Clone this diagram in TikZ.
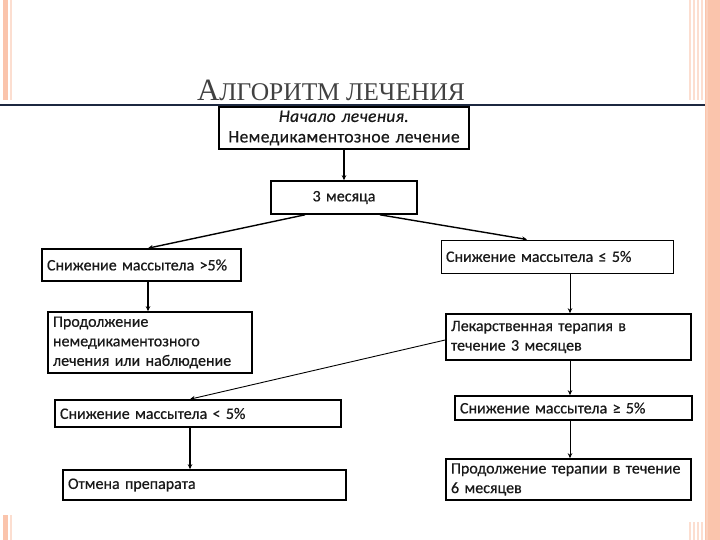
\documentclass[tikz,border=0pt]{standalone}
\usepackage{fontspec}
\setmainfont{Carlito}[FakeBold=0.5]
\newfontfamily\titlefont{Liberation Serif}
\usetikzlibrary{arrows.meta}
\definecolor{salmon}{RGB}{250,196,172}
\definecolor{salmonlt}{RGB}{252,222,208}
\definecolor{navy}{RGB}{28,40,64}
\definecolor{titlegray}{RGB}{65,65,65}
\definecolor{txt}{RGB}{25,25,25}
\tikzset{
  box/.style={draw=black, line width=1.6pt, rectangle, inner xsep=5pt, inner ysep=2pt,
     font=\fontsize{16}{19.5}\selectfont, text=txt, align=left},
  thinbox/.style={box, line width=1pt},
  arr/.style={line width=1.4pt, -{Stealth[length=5pt,width=4.5pt]}},
  thinarr/.style={line width=0.9pt, -{Stealth[length=5pt,width=4.5pt]}},
}
\begin{document}
\begin{tikzpicture}[x=1pt,y=-1pt]
\useasboundingbox (0,0) rectangle (720,540);
% slide decoration
\fill[white] (0,0) rectangle (720,540);
\fill[salmon] (705,0) rectangle (720,540);
\fill[salmon!80!white] (706,0) rectangle (708,540);
\foreach \xx in {689,693,697,701}{\fill[salmonlt] (\xx,0) rectangle (\xx+1.5,100);
  \fill[salmonlt] (\xx,522) rectangle (\xx+1.5,540);}
\fill[salmon] (3,0) rectangle (8,100);
\fill[salmonlt] (10,0) rectangle (12,100);
\fill[salmon] (3,515) rectangle (8,540);
\fill[salmonlt] (10,515) rectangle (12,540);
\fill[navy] (0,104) rectangle (705,106.5);
% title
\node[text=titlegray, anchor=base, inner sep=0pt] (title) at (331,101)
  {\titlefont{\fontsize{31}{31}\selectfont А}{\fontsize{25.5}{25.5}\selectfont ЛГОРИТМ ЛЕЧЕНИЯ}};
% boxes
\node[box, minimum width=250pt, text width=240pt, minimum height=42pt, align=center,
  font=\fontsize{17.5}{20.5}\selectfont\addfontfeature{LetterSpace=2}] (b1) at (344,128)
  {\textit{Начало лечения.}\\Немедикаментозное лечение};
\node[box, minimum width=146pt, text width=136pt, minimum height=33pt, align=center] (b2) at (344,197.5)
  {3 месяца};
\node[box, minimum width=199pt, text width=189pt, minimum height=32pt] (b3) at (141.5,265)
  {Снижение массытела >5\%};
\node[thinbox, minimum width=232pt, text width=222pt, minimum height=33pt] (b4) at (557,256.5)
  {Снижение массытела ≤ 5\%\\[3pt]};
\node[box, minimum width=204pt, text width=194pt, minimum height=61pt] (b5) at (150,342.5)
  {Продолжение\\немедикаментозного\\лечения или наблюдение};
\node[box, minimum width=245pt, text width=235pt, minimum height=46pt] (b6) at (568.5,337)
  {Лекарственная терапия в\\течение 3 месяцев};
\node[box, minimum width=286pt, text width=276pt, minimum height=27pt] (b7) at (198,413.5)
  {Снижение массытела < 5\%};
\node[box, minimum width=237pt, text width=227pt, minimum height=24pt] (b8) at (573.5,408)
  {Снижение массытела ≥ 5\%};
\node[box, minimum width=283pt, text width=273pt, minimum height=30pt] (b9) at (204.5,485)
  {Отмена препарата};
\node[box, minimum width=245pt, text width=235pt, minimum height=41pt] (b10) at (568.5,479.5)
  {Продолжение терапии в течение\\6 месяцев};
% connectors
\draw[arr] (b1.south) -- (b2.north);
\draw[arr] ([xshift=-39pt]b2.south) -- ([xshift=6.5pt]b3.north);
\draw[arr] ([xshift=36pt]b2.south) -- ([xshift=-30pt]b4.north);
\draw[arr] ([xshift=6.5pt]b3.south) -- ([xshift=-2pt]b5.north);
\draw[thinarr] ([xshift=13pt]b4.south) -- ([xshift=1.5pt]b6.north);
\draw[thinarr] ([yshift=-3pt]b6.west) -- ([xshift=-8pt]b7.north);
\draw[thinarr] ([xshift=1.5pt]b6.south) -- ([xshift=-3.5pt]b8.north);
\draw[thinarr] ([xshift=-3.5pt]b8.south) -- ([xshift=1.5pt]b10.north);
\draw[arr] ([xshift=-8pt]b7.south) -- ([xshift=-14.5pt]b9.north);
\end{tikzpicture}
\end{document}
